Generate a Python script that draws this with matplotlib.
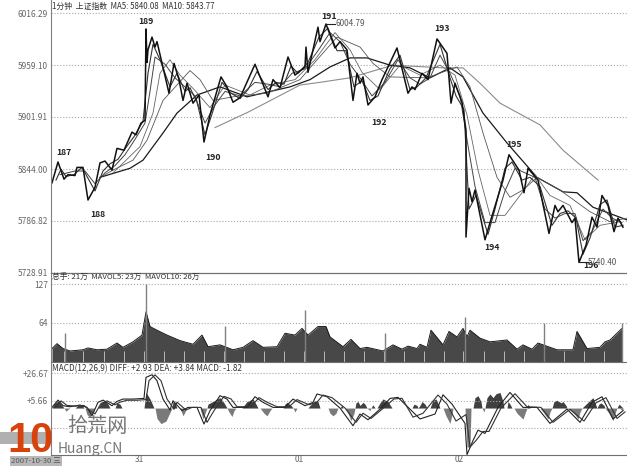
import numpy as np
import matplotlib
matplotlib.use('Agg')
import matplotlib.pyplot as plt

plt.rcParams['font.family'] = ['Noto Sans CJK SC', 'DejaVu Sans']

W, H = 627, 466

# price panel, x is the bar position along the session
price_t = [52,58,64,68,75,77,83,88,95,100,105,112,117,124,132,136,141,145,146,147,148,152,155,157,169,174,179,183,187,193,199,204,210,221,227,233,240,255,268,273,280,288,295,305,306,308,318,320,326,335,340,347,353,357,360,363,368,375,382,397,408,412,415,422,428,437,447,451,455,462,466,466,469,472,475,485,490,503,509,519,524,528,538,549,555,558,563,572,575,579,586,592,597,602,608,614,618,623]
price = [5829,5852,5833,5838,5837,5846,5846,5810,5824,5851,5853,5843,5867,5865,5885,5882,5895,5898,5999,5962,5976,5990,5979,5985,5928,5961,5943,5920,5939,5917,5926,5874,5904,5946,5935,5918,5923,5960,5924,5943,5934,5968,5948,5957,5979,5951,6001,5985,6004.5,5978,5985,5976,5920,5950,5939,5946,5915,5924,5943,5978,5928,5935,5932,5950,5943,5988,5972,5917,5939,5918,5887,5769,5823,5808,5821,5766,5785,5832,5860,5843,5818,5845,5832,5773,5804,5797,5804,5785,5790,5741,5760,5791,5780,5815,5804,5775,5790,5780]

ma5_t = [56,61,66,74,82,89,95,103,110,118,126,134,143,148,153,160,170,177,185,190,197,205,212,222,231,240,248,257,268,276,284,291,298,308,319,328,337,346,354,362,370,378,390,400,410,417,426,440,450,456,464,469,476,488,495,505,512,522,530,540,552,560,568,576,583,590,600,607,615,623]
ma5 = [5832,5844,5836,5838,5846,5832,5820,5842,5850,5855,5868,5880,5897,5950,5982,5965,5935,5950,5930,5934,5918,5882,5905,5940,5928,5922,5932,5952,5932,5940,5938,5958,5950,5962,5990,6000,5975,5975,5935,5942,5920,5925,5955,5970,5932,5935,5945,5982,5945,5925,5910,5800,5815,5772,5800,5845,5852,5832,5835,5825,5782,5795,5798,5790,5750,5768,5805,5810,5780,5782]

ma10_t = [60,75,85,95,105,115,125,135,145,150,155,165,175,185,195,205,215,225,240,255,268,280,292,305,318,330,340,350,360,372,385,398,410,420,430,440,450,460,468,475,485,495,505,515,525,535,545,555,565,575,583,592,603,612,622]
ma10 = [5838,5842,5842,5828,5840,5848,5860,5877,5895,5930,5968,5960,5945,5935,5925,5895,5915,5930,5925,5940,5938,5935,5950,5955,5975,5995,5985,5960,5945,5925,5940,5965,5945,5938,5945,5970,5950,5925,5870,5825,5785,5785,5820,5845,5840,5835,5800,5790,5795,5795,5765,5775,5800,5790,5785]

ma15_t = [113,140,153,160,170,180,195,210,225,250,270,295,315,335,350,362,380,400,420,440,455,467,478,490,505,520,535,550,570,585,600,620]
ma15 = [5840,5869,5906,5950,5965,5948,5931,5912,5937,5926,5937,5943,5965,5995,5976,5951,5932,5959,5948,5959,5948,5904,5843,5793,5793,5815,5838,5815,5804,5766,5782,5786]

ma20_t = [100,113,133,147,163,190,200,213,233,267,300,310,337,360,373,390,427,457,470,483,497,510,523,537,560,590,610,627]
ma20 = [5835,5843,5854,5876,5920,5953,5943,5920,5924,5928,5943,5956,5990,5979,5961,5946,5945,5957,5935,5884,5835,5813,5821,5835,5821,5797,5786,5790]

ma30_t = [100,130,143,163,177,197,220,247,290,310,330,350,367,390,410,430,450,463,483,507,537,563,577,593,627]
ma30 = [5835,5845,5854,5884,5906,5926,5935,5924,5935,5943,5957,5967,5967,5959,5956,5945,5956,5946,5906,5873,5835,5819,5818,5802,5788]

ma60_t = [215,248,300,320,350,393,443,463,480,500,540,563,598]
ma60 = [5890,5907,5937,5940,5945,5959,5956,5956,5939,5917,5893,5865,5832]

price_ticks = [6016.29, 5959.10, 5901.91, 5844.00, 5786.82, 5729.3]
price_labels = ['6016.29', '5959.10', '5901.91', '5844.00', '5786.82', '5728.91']

# volume panel
vol_t = [52,57,63,70,83,88,97,107,117,123,133,142,146,150,157,167,180,193,202,208,220,233,243,253,263,277,285,295,302,308,318,326,330,343,351,360,367,383,393,402,408,417,420,427,431,443,449,457,463,467,470,480,490,507,517,523,532,538,557,573,577,587,600,605,610,622]
vol = [22,30,22,18,20,23,20,21,31,24,33,44,82,58,52,44,35,29,44,25,28,20,24,35,24,25,47,44,55,44,58,58,41,25,37,22,24,18,28,21,26,22,29,24,52,28,50,41,55,41,52,39,33,36,21,28,21,31,20,20,50,22,24,33,36,55]
vol_spike_t = [65,146,225,305,385,465,544,622]
vol_spike = [47,127,59,85,47,74,63,63]
vol_gap_t = [64,83,104,124,144,164,184,204,224,244,264,284,304,324,344,364,384,404,424,444,463,484,504,524,544,564,584,604]

# macd panel
diff_t = [52,58,63,70,80,87,92,98,103,112,117,123,133,144,146,152,157,163,170,173,182,188,197,204,210,220,227,233,247,255,263,273,285,293,305,313,317,327,340,353,360,368,382,390,398,420,435,443,452,465,467,473,478,485,498,510,523,537,550,567,580,592,602,613,623]
diff = [0.5,6.1,1.8,1,2.3,.5,-5.9,4.4,6.1,1.8,5.1,6.9,6.9,7.4,23.6,25.6,21,6.9,-1.5,5.6,-2,.5,.5,-12.3,-2,9.5,6.9,.5,.5,8.7,4.4,.5,.5,6.9,1.8,4.4,10.8,8.7,0,-13.6,-4.6,-9,.5,7.4,8.2,-8.4,-4.6,10.2,3,-11.8,-35.8,-25,-17,-19.5,.5,12,.5,.5,-11.8,-.8,-11,4.4,8.7,-8.4,-2]
dea_t = [55,61,67,75,84,90,95,101,107,115,120,127,137,146,149,155,161,167,174,177,186,192,201,207,214,224,231,237,251,259,267,277,289,297,309,317,323,332,345,356,363,371,385,394,402,413,423,438,447,456,466,470,476,483,489,501,515,527,541,553,570,584,596,606,617,625]
dea = [.5,5.5,2,1.5,2,-2,-4.5,3.5,5.5,2.5,4.5,6,6,6.5,21,25.5,21,7,-1,4.5,-1.5,.5,.5,-11,-2,9,7,1,1,8,4.5,1,1,6.5,2.5,4.5,10,8,0,-11,-4,-8,1,7,7.5,-7,-4,10,3,-10,-5,-30,-25,-18,-18,0,11,1,.5,-11,-1,-10,4,8,-8,-3]
macd_t = [52,54,58,62,64,66,68,70,75,78,82,84,85,87,90,93,95,98,101,105,108,110,115,117,120,122,144,146,150,154,155,157,161,166,172,173,175,177,180,183,185,187,200,203,205,207,208,215,220,224,227,229,232,234,236,242,247,253,256,258,260,264,267,270,272,283,285,287,291,293,295,297,298,305,308,310,315,318,320,328,330,333,336,338,340,342,343,345,348,351,354,355,356,358,360,363,365,367,370,371,373,375,377,380,383,388,392,398,412,414,417,418,420,422,425,427,430,433,436,439,440,443,446,450,452,453,465,467,470,471,473,475,478,481,482,484,485,487,490,493,496,500,503,504,507,508,510,512,514,517,523,525,527,528,530,540,544,548,550,552,554,557,561,563,566,567,571,575,578,580,582,586,590,593,595,597,599,601,604,605,609,613,615,617,619,623]
macd = [0,3,5.5,2,0,-2.5,-1,0,0,2,2.3,0,0,-5,-7,-3,0,0,4,5.6,3,0,0,4,3,0,0,12,7,0,0,-8,-12,-10,0,5,4,0,0,-6,-3,0,0,-8.5,-4,0,3,6,8,4,0,-3,-6.5,-2,0,0,5,7,3,0,0,-4,-6,-2,0,0,3,4.4,2,0,-3,0,0,0,0,2,5.6,5,0,0,-4,-6,-4,0,0,2.3,0,0,-4,-9.7,-4,0,4,5,2,4.4,3,0,-2,0,2.5,0,0,4,7,5,0,0,0,3,2,0,2,5,3,0,0,6,7,2,0,0,-6,-11.8,-5,0,0,-30,-30,0,0,8,9.5,5,0,-3,0,8,10.8,8,11,12,5,0,0,5,3,0,0,-4,-8.5,-4,0,3,0,0,-4,-8.5,-3,0,5,6,4,5,2,0,-2,-5,-8.5,-3,0,3,6,8,4,0,3,4,2,0,-4,-9.7,-4,0,3,-2]
macd_ticks = [26.67, 5.66, -15.35]
day_t = [139, 299, 459]
day_labels = ['31', '01', '02']


def panel(top, bottom, ylim):
    ax = fig.add_axes([51 / W, 1 - bottom / H, (W - 51) / W, (bottom - top) / H])
    ax.set_xlim(51, 627)
    ax.set_ylim(*ylim)
    ax.set_facecolor('none')
    for s in ['top', 'right']:
        ax.spines[s].set_visible(False)
    ax.spines['left'].set_color('#808080')
    ax.spines['bottom'].set_color('#707070')
    ax.set_xticks([])
    ax.tick_params(axis='y', length=0, labelsize=6, labelcolor='#666666', pad=2)
    return ax


fig = plt.figure(figsize=(W / 100, H / 100), dpi=100, facecolor='white')

# price
ax1 = panel(0, 273, (5729.3, 6031))
ax1.set_yticks(price_ticks)
ax1.set_yticklabels(price_labels)
ax1.grid(axis='y', color='#a8a8a8', ls=':', lw=0.8)
ax1.plot(ma60_t, ma60, color='#8c8c8c', lw=0.8)
ax1.plot(ma30_t, ma30, color='#1a1a1a', lw=0.9)
ax1.plot(ma20_t, ma20, color='#555555', lw=0.6)
ax1.plot(ma15_t, ma15, color='#666666', lw=0.6)
ax1.plot(ma10_t, ma10, color='#444444', lw=0.7)
ax1.plot(ma5_t, ma5, color='#333333', lw=0.8)
ax1.plot(price_t, price, color='#111111', lw=1.1)
ax1.plot([579, 588], [5741, 5741], color='#222222', lw=0.8)
ax1.plot([326, 335], [6005, 6005], color='#222222', lw=0.8)

wave_names = ['187', '188', '189', '190', '191', '192', '193', '194', '195', '196']
wave_x = [64, 98, 146, 213, 329, 379, 442, 492, 514, 591]
wave_y = [5863, 5794, 6007, 5857, 6013, 5896, 6000, 5757, 5871, 5738]
for name, x, y in zip(wave_names, wave_x, wave_y):
    ax1.text(x, y, name, fontsize=6.2, fontweight='bold', color='#222222', ha='center', va='center')
ax1.text(335, 6005, '6004.79', fontsize=5.8, color='#555555', va='center')
ax1.text(588, 5741, '5740.40', fontsize=5.8, color='#555555', va='center')
ax1.text(52, 6024, '1分钟  上证指数  MA5: 5840.08  MA10: 5843.77', fontsize=5.7, color='#333333', va='center')

# volume
ax2 = panel(273, 362, (0, 145.6))
ax2.spines['top'].set_visible(True)
ax2.spines['top'].set_color('#707070')
ax2.set_yticks([64, 127])
ax2.set_yticklabels(['64', '127'])
ax2.grid(axis='y', color='#a8a8a8', ls=':', lw=0.8)
ax2.fill_between(vol_t, vol, color='#484848', lw=0)
ax2.plot(vol_t, vol, color='#1a1a1a', lw=0.7)
ax2.vlines(vol_gap_t, 0, 18, color='#c8c8c8', lw=0.6)
ax2.vlines(vol_spike_t, 0, vol_spike, color='#808080', lw=1.0)
ax2.text(52, 137, '总手: 21万  MAVOL5: 23万  MAVOL10: 26万', fontsize=5.6, color='#333333', va='center')

# macd
ax3 = panel(362, 455, (-36.1, 35.4))
ax3.set_yticks(macd_ticks[:2])
ax3.set_yticklabels(['+26.67', '+5.66'])
for v in macd_ticks:
    ax3.axhline(v, color='#a8a8a8', ls=':', lw=0.8)
macd_arr = np.array(macd, dtype=float)
ax3.fill_between(macd_t, np.clip(macd_arr, 0, None), color='#404040', lw=0)
ax3.fill_between(macd_t, np.clip(macd_arr, None, 0), color='#7a7a7a', lw=0)
ax3.plot(diff_t, diff, color='#222222', lw=0.8)
ax3.plot(dea_t, dea, color='#333333', lw=0.8)
ax3.text(52, 30.5, 'MACD(12,26,9) DIFF: +2.93 DEA: +3.84 MACD: -1.82', fontsize=5.9, color='#333333', va='center')
for x, lab in zip(day_t, day_labels):
    ax3.text(x, -39.5, lab, fontsize=6, color='#666666', ha='center', va='center', clip_on=False)

# watermark and date box, over everything
fig.patches.append(plt.Rectangle((0, 1 - 444 / H), 50 / W, 12 / H, transform=fig.transFigure, color='#b0b0b0', lw=0))
fig.patches.append(plt.Rectangle((10 / W, 0), 52 / W, 10 / H, transform=fig.transFigure, color='#b8b8b8', lw=0))
fig.text(11 / W, 1 - 461 / H, '2007-10-30 三', fontsize=5.6, color='#555555', va='center')
fig.text(30 / W, 1 - 441 / H, '10', fontsize=30, fontweight='bold', color='#d8420c', ha='center', va='center', zorder=5,
         family=['Liberation Sans', 'DejaVu Sans'])
fig.text(97 / W, 1 - 427 / H, '拾荒网', fontsize=14.5, color='#777777', ha='center', va='center', zorder=5)
fig.text(90 / W, 1 - 449 / H, 'Huang.CN', fontsize=10, color='#777777', ha='center', va='center', zorder=5)

fig.savefig('out.png', dpi=100)
